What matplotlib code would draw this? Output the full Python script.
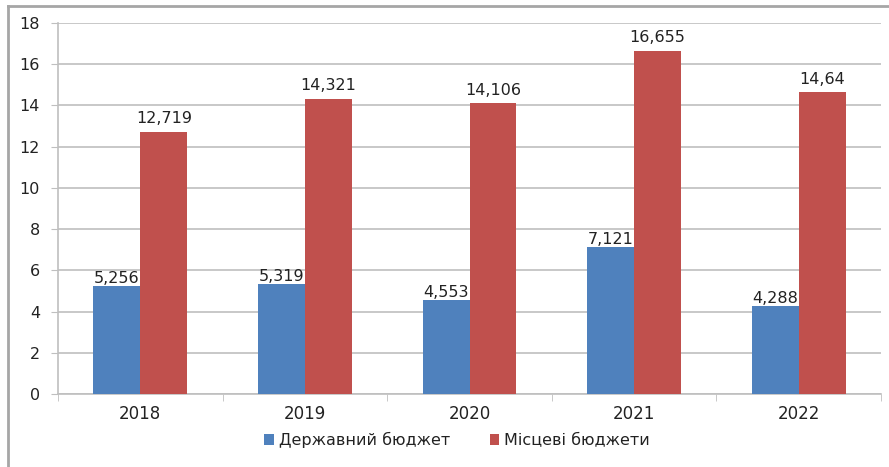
import matplotlib
matplotlib.use("Agg")
import matplotlib.pyplot as plt
import numpy as np
from matplotlib.lines import Line2D
from matplotlib.patches import Patch

categories = ["2018", "2019", "2020", "2021", "2022"]
state_budget = [5.256, 5.319, 4.553, 7.121, 4.288]
local_budgets = [12.719, 14.321, 14.106, 16.655, 14.64]
state_labels = ["5,256", "5,319", "4,553", "7,121", "4,288"]
local_labels = ["12,719", "14,321", "14,106", "16,655", "14,64"]
series_names = ["Державний бюджет", "Місцеві бюджети"]

plt.rcParams['font.family'] = ['DejaVu Sans']

blue = "#4F81BD"
red = "#C0504D"
grid_c = "#BFBFBF"
text_c = "#222222"
fs = 11.5

fig = plt.figure(figsize=(8.89, 4.67), dpi=100)
ax = fig.add_axes([58/889, 1 - 394/467, (881 - 58)/889, (394 - 23)/467])

x = np.arange(len(categories))
w = 0.285
b1 = ax.bar(x - w/2, state_budget, w, color=blue, zorder=3)
b2 = ax.bar(x + w/2, local_budgets, w, color=red, zorder=3)

for rect, lab in zip(b1, state_labels):
    ax.annotate(lab, (rect.get_x() + rect.get_width()/2, rect.get_height()),
                xytext=(0, 0), textcoords="offset points", ha="center", va="bottom",
                fontsize=fs, color=text_c, zorder=4)
for rect, lab in zip(b2, local_labels):
    ax.annotate(lab, (rect.get_x() + rect.get_width()/2, rect.get_height()),
                xytext=(0, 4), textcoords="offset points", ha="center", va="bottom",
                fontsize=fs, color=text_c, zorder=4)

ax.set_xlim(-0.5, len(categories) - 0.5)
ax.set_ylim(0, 18)
ax.set_yticks(np.arange(0, 19, 2))
ax.yaxis.grid(True, color=grid_c, linewidth=1.2, zorder=0)
ax.set_axisbelow(True)

ax.set_xticks(x)
ax.set_xticklabels(categories)
ax.set_xticks(np.arange(-0.5, len(categories)), minor=True)
ax.tick_params(axis='x', which='major', length=0, pad=8, labelsize=12, labelcolor=text_c)
ax.tick_params(axis='x', which='minor', length=5, color=grid_c, direction='out')
ax.tick_params(axis='y', length=5, color=grid_c, pad=8, labelsize=fs, labelcolor=text_c)

for s in ["top", "right"]:
    ax.spines[s].set_visible(False)
for s in ["left", "bottom"]:
    ax.spines[s].set_color(grid_c)
    ax.spines[s].set_linewidth(1.2)

handles = [Patch(facecolor=blue), Patch(facecolor=red)]
fig.legend(handles, series_names, loc="center", bbox_to_anchor=(457/889, 1 - 440/467),
           ncol=2, frameon=False, fontsize=fs, handlelength=0.6, handleheight=0.6,
           handletextpad=0.3, columnspacing=2.5, labelcolor=text_c)

# outer frame of the cropped figure
fig.add_artist(Line2D([8/889, 8/889], [0, 1 - 6/467], transform=fig.transFigure,
                      color="#A6A6A6", linewidth=2))
fig.add_artist(Line2D([8/889, 1], [1 - 6/467, 1 - 6/467], transform=fig.transFigure,
                      color="#A6A6A6", linewidth=2))

fig.savefig("out.png", dpi=100)
